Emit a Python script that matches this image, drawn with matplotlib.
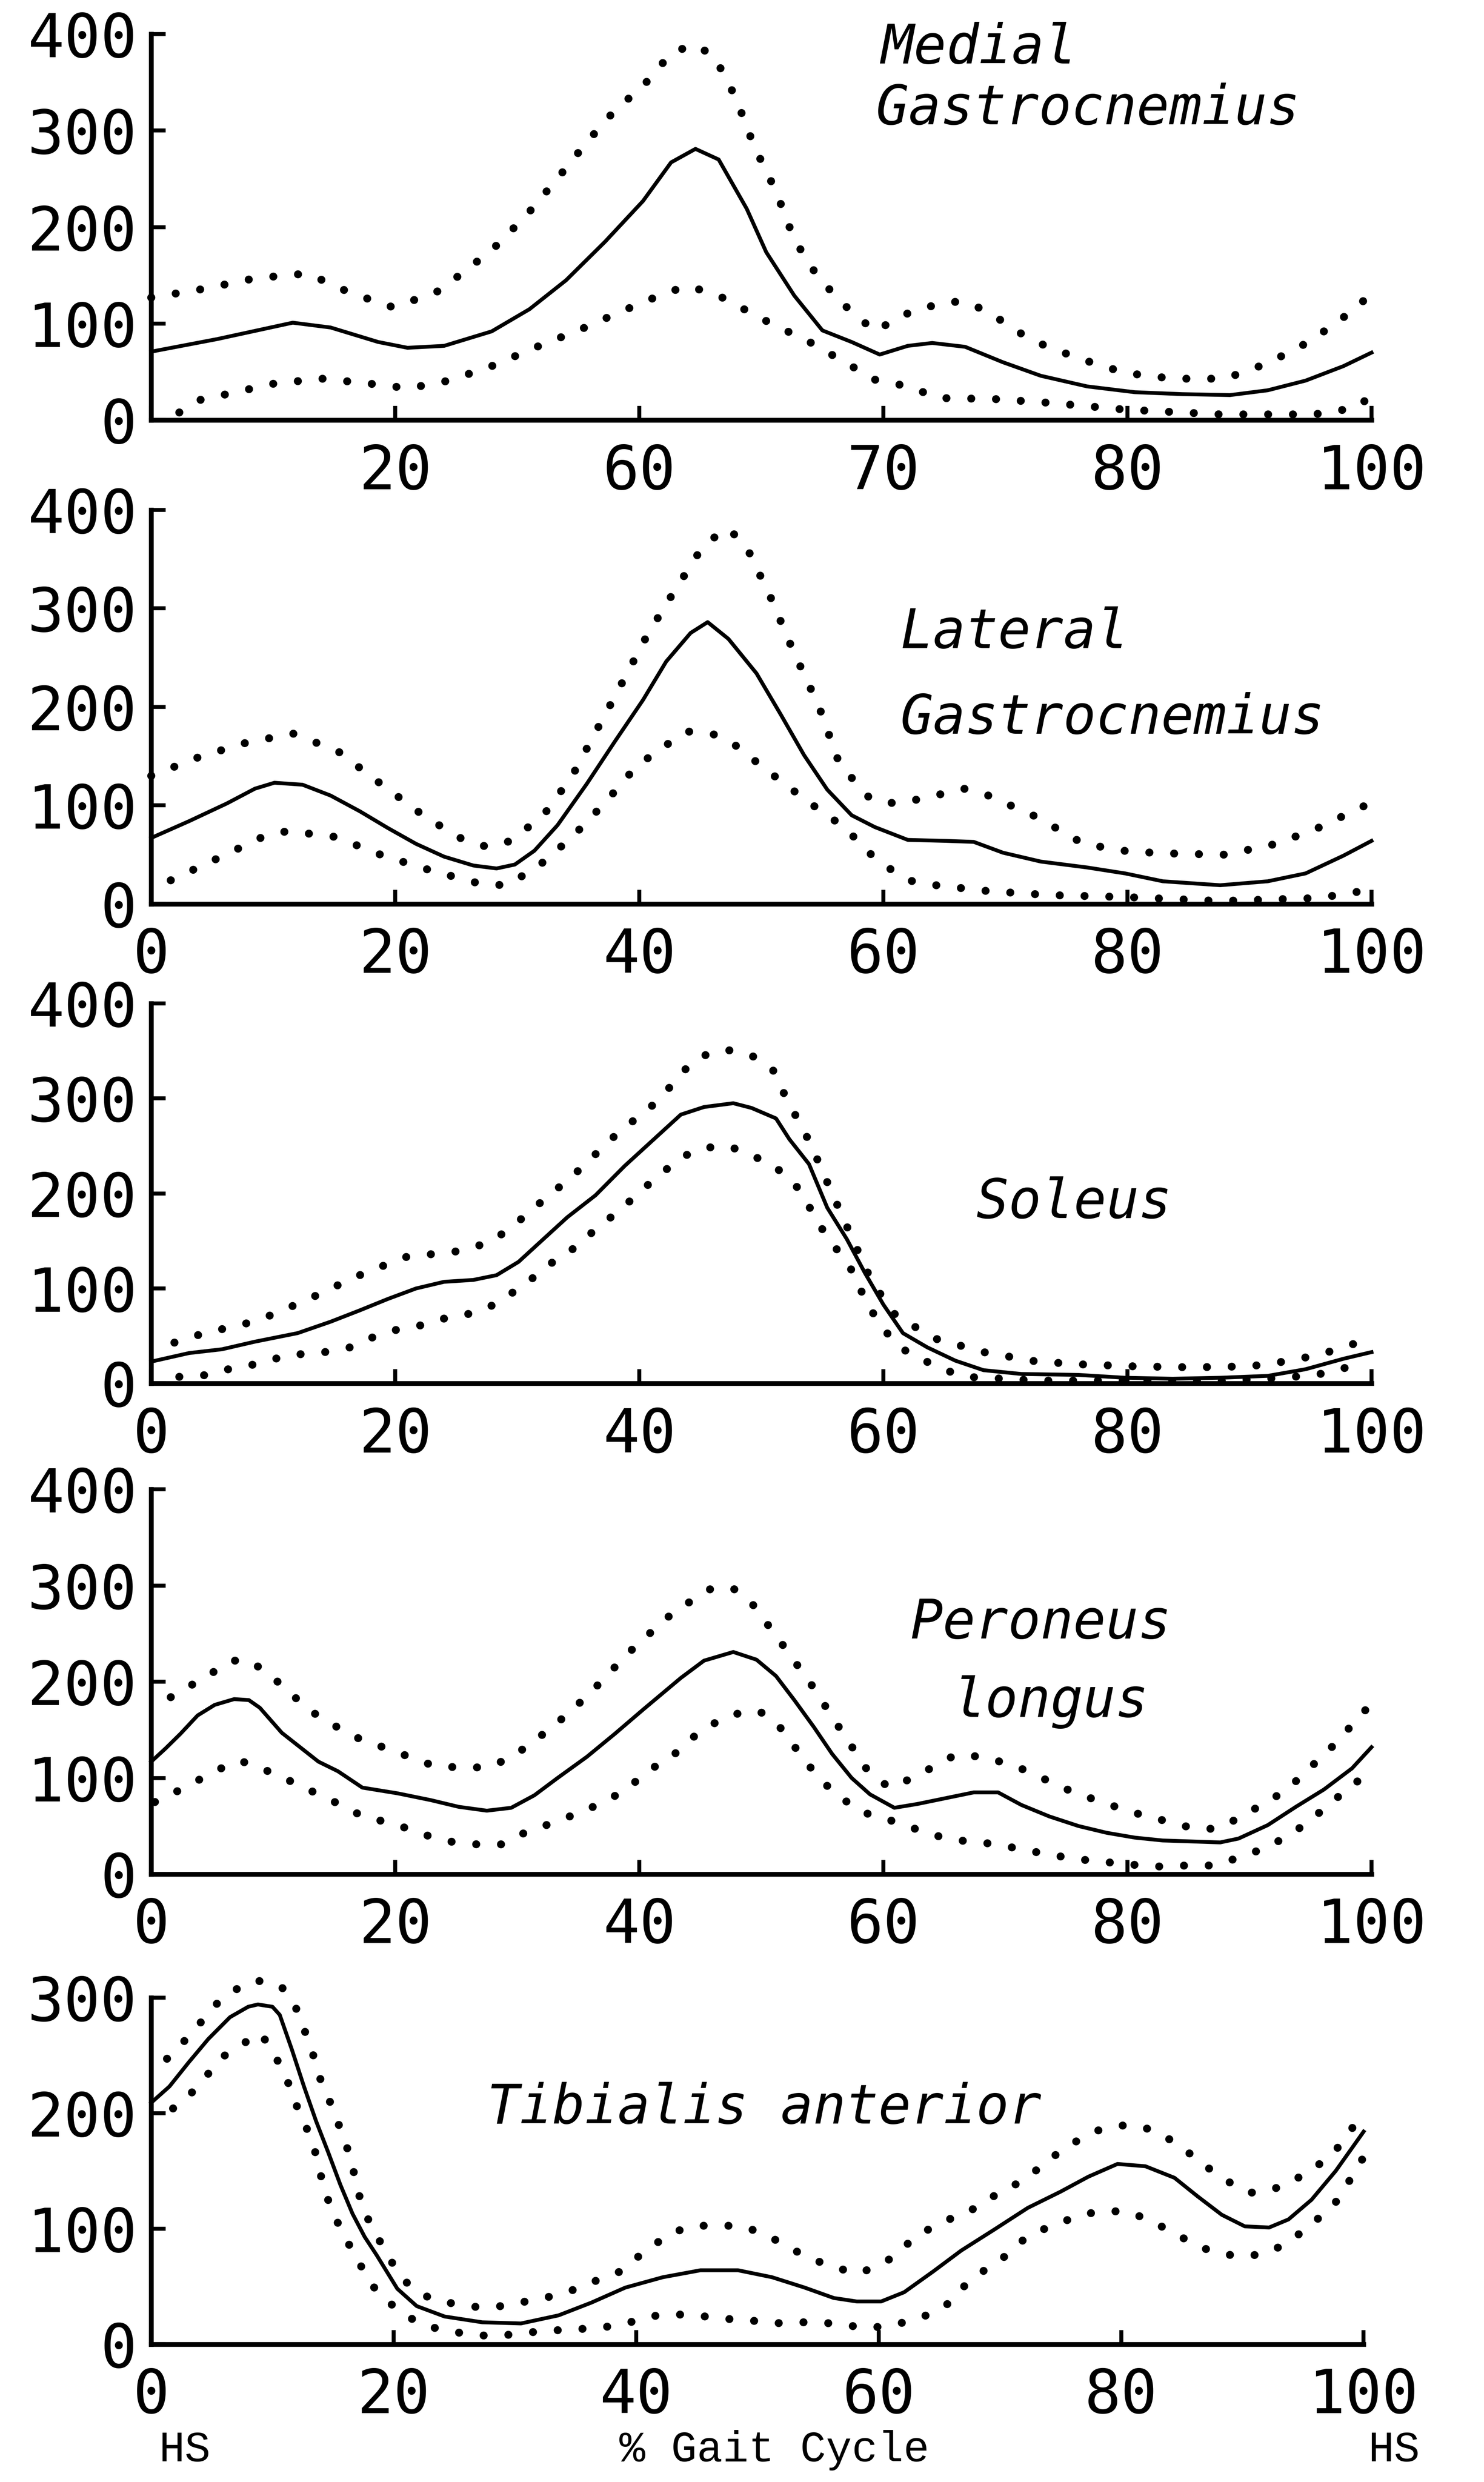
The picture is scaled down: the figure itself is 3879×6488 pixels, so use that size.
import matplotlib.pyplot as plt

plt.rcParams['font.family'] = ['DejaVu Sans Mono']

# --- Medial Gastrocnemius ---
mg_mean_x = [0, 5.4, 11.6, 14.7, 18.6, 21, 24, 27.9, 31, 34, 37.2, 40.3, 42.6, 44.6, 46.5, 48.8, 50.4,
             52.7, 55, 57.4, 59.7, 62, 64, 66.7, 69.8, 72.9, 76.7, 80.6, 84.5, 88.4, 91.5, 94.6, 97.7, 100]
mg_mean_y = [71, 84, 101, 96, 81, 75, 77, 92, 115, 145, 185, 227, 267, 281, 270, 219, 174,
             129, 93, 81, 68, 77, 80, 76, 60, 46, 35, 29, 27, 26, 31, 41, 56, 70]
mg_upper_x = [0, 4.3, 8.5, 12.8, 16.3, 19.8, 23.3, 26, 28.3, 30.8, 33.2, 35.7, 38, 40.3, 42.6, 44.4, 46.1,
              47.9, 49.4, 51.2, 52.7, 54.7, 57, 59.3, 61.6, 64.9, 66.7, 68.6, 72.1, 76, 79.8, 83.7, 88,
              91.5, 95, 98.3, 100]
mg_upper_y = [127, 136, 147, 152, 132, 117, 132, 157, 181, 213, 249, 288, 321, 346, 380, 389, 378,
              334, 284, 237, 187, 147, 117, 92, 109, 122, 123, 112, 83, 64, 49, 43, 43,
              59, 82, 112, 131]
mg_lower_x = [2.3, 4, 6.2, 10.1, 14, 17.8, 21.1, 24.4, 27.9, 31.8, 35, 38.4, 42.2, 44, 46.5, 50.2, 54.1,
              57.8, 59.3, 62.4, 64.3, 69, 73.6, 79.8, 87.6, 95.3, 98.8, 100]
mg_lower_y = [8, 21, 27, 38, 43, 38, 33, 41, 56, 77, 93, 112, 132, 139, 129, 104, 80,
              53, 42, 34, 23, 22, 18, 11, 6, 6, 13, 26]

# --- Lateral Gastrocnemius ---
lg_mean_x = [0, 3.1, 6.2, 8.5, 10.1, 12.4, 14.7, 17.1, 19.4, 21.7, 24, 26.4, 28.3, 29.8, 31.4, 33.3,
             35.7, 38, 40.3, 42.2, 44.2, 45.6, 47.3, 49.6, 51.6, 53.5, 55.4, 57.4, 59.3, 62, 65.1,
             67.4, 69.8, 72.9, 76.7, 79.8, 82.9, 87.6, 91.5, 94.6, 97.7, 100]
lg_mean_y = [67, 84, 102, 117, 123, 121, 110, 94, 77, 61, 48, 39, 36, 40, 54, 80,
             122, 165, 207, 246, 275, 286, 269, 234, 192, 151, 116, 90, 78, 65, 64,
             63, 52, 43, 37, 31, 23, 19, 23, 31, 49, 64]
lg_upper_x = [0, 3.9, 7.6, 11.6, 15.3, 18.8, 22.5, 25.6, 27.5, 29.5, 32.2, 34.5, 36.4, 38.1, 40.7, 43,
              44.8, 45.9, 47.3, 48.8, 50.8, 52.6, 54.7, 56.4, 58.9, 60.9, 62.8, 66.7, 68.6, 72.6,
              76.4, 80.2, 84.1, 88, 92.2, 95.6, 99.5]
lg_upper_y = [130, 149, 163, 173, 155, 122, 88, 65, 58, 64, 91, 130, 174, 213, 274, 320,
              355, 370, 381, 362, 310, 257, 201, 142, 107, 102, 106, 117, 110, 88,
              61, 53, 51, 50, 61, 77, 100]
lg_lower_x = [1.6, 5.4, 9.3, 11.2, 15.1, 19, 22.9, 27.1, 29.1, 31.6, 34.5, 37.2, 39.5, 41.5, 44, 46.1,
              48, 50.2, 53.9, 57, 58.5, 60.5, 62, 64.3, 68.6, 73.6, 79.8, 87.6, 95.7, 99.2]
lg_lower_y = [24, 46, 69, 74, 68, 49, 34, 20, 19, 37, 68, 103, 136, 156, 175, 172,
              160, 138, 103, 76, 55, 36, 24, 19, 13, 9, 7, 3, 6, 13]

# --- Soleus ---
so_mean_x = [0, 3.1, 5.8, 8.5, 12, 14.7, 17.1, 19.4, 21.7, 24, 26.4, 28.3, 30.1, 31.8, 34.1, 36.4,
             38.8, 41.1, 43.4, 45.3, 47.7, 49.2, 51.2, 52.3, 53.9, 55.4, 57, 58.5, 60, 61.6, 63.6,
             65.9, 68.2, 71.3, 76, 79.8, 83.7, 87.6, 91.5, 94.6, 97.7, 100]
so_mean_y = [23, 32, 36, 44, 53, 65, 77, 89, 100, 107, 109, 114, 128, 148, 175, 198,
             229, 256, 283, 291, 295, 290, 279, 257, 231, 185, 152, 116, 83, 53, 38,
             24, 14, 10, 9, 6, 5, 6, 8, 15, 26, 33]
so_upper_x = [1.9, 4.1, 8.7, 12.6, 16.7, 20.8, 25.7, 27.9, 29.5, 31.2, 34.5, 38.1, 41.2, 42.8, 44.2,
              45.9, 47.7, 49.6, 51, 51.9, 54, 55.7, 57.4, 59.1, 61.1, 62.4, 64.3, 68.2, 72.6, 76.4,
              80.6, 85.3, 89.9, 91.9, 95.7, 99.6]
so_upper_y = [43, 52, 66, 87, 112, 133, 140, 150, 164, 183, 218, 262, 294, 316, 337,
              349, 351, 343, 329, 304, 253, 203, 154, 106, 70, 61, 47, 33, 23, 20,
              18, 17, 18, 21, 30, 46]
so_lower_x = [2.3, 4.7, 6.6, 8.9, 11.2, 13.8, 16.3, 18.4, 20.5, 22.5, 24.4, 26.4, 28.3, 30.1, 31.8, 33.3,
              35, 36.6, 38.1, 40.7, 43.4, 45.3, 47.3, 49.2, 50.8, 52.3, 53.5, 54.4, 55.8, 57.8, 58.5,
              60.3, 61.6, 63.2, 65.1, 66.7, 72.9, 79.8, 86.8, 91.5, 94.6, 96.9, 99.2]
so_lower_y = [7, 9, 16, 21, 30, 32, 38, 50, 58, 62, 70, 74, 84, 100, 116, 132,
              145, 165, 179, 209, 238, 248, 250, 240, 231, 216, 198, 173, 148, 112, 86,
              53, 36, 25, 14, 7, 3, 3, 2, 5, 8, 12, 23]

# --- Peroneus longus ---
pl_mean_x = [0, 1.2, 2.4, 3.8, 5.2, 6.8, 8, 8.9, 10.7, 12.3, 13.7, 15.3, 17.3, 20.2, 22.9, 25.2, 27.5,
             29.5, 31.4, 33.3, 35.7, 38, 40.3, 43.4, 45.3, 47.7, 49.6, 51.2, 52.7, 54.3, 55.8, 57.4,
             58.9, 60.9, 62.8, 65.1, 67.4, 69.4, 71.3, 73.6, 76, 78.3, 80.6, 82.9, 85.3, 87.6, 89.1,
             91.5, 93.8, 96.1, 98.4, 100]
pl_mean_y = [117, 131, 146, 165, 176, 182, 181, 173, 147, 131, 117, 107, 90, 84, 77, 70, 66,
             69, 82, 100, 122, 146, 171, 204, 222, 231, 223, 206, 181, 153, 125, 100,
             83, 69, 73, 79, 85, 85, 72, 60, 50, 43, 38, 35, 34, 33, 37,
             51, 70, 88, 110, 132]
pl_upper_x = [1.6, 4.7, 6.6, 8.1, 10.1, 13, 16.4, 19, 23.3, 25.6, 27.5, 29.5, 32.9, 35.8, 39.1, 42.2,
              44, 45.9, 47.7, 49.2, 51.6, 54.1, 56.4, 58.8, 60.5, 62.4, 65.9, 68.2, 70.9, 75.6, 80.2,
              85.3, 87.2, 89.1, 93, 96.9, 99.6]
pl_upper_y = [184, 207, 222, 222, 203, 170, 144, 132, 112, 111, 111, 121, 153, 186, 230, 266,
              282, 297, 297, 282, 241, 197, 152, 106, 90, 100, 124, 122, 112, 85, 65,
              48, 47, 58, 87, 134, 172]
pl_lower_x = [0.3, 2.1, 3.6, 5.1, 6.2, 7.3, 8.3, 9.8, 11.7, 13.7, 15.7, 17.5, 19.8, 22.1, 24.4, 26.7,
              28.7, 30.6, 32.6, 34.5, 36.4, 38.4, 40.3, 41.9, 43, 45, 46.9, 48.8, 50, 51.2, 52.3,
              53.5, 55, 56.6, 58.1, 60.1, 62.4, 64.3, 66.3, 68.6, 70.9, 72.9, 75.6, 77.9, 80.2,
              82.6, 84.9, 87.2, 89.5, 91.5, 93, 94.6, 96.1, 97.7, 99.2]
pl_lower_y = [75, 86, 96, 106, 113, 118, 113, 106, 95, 83, 71, 59, 53, 42, 34, 31,
              31, 43, 52, 61, 71, 84, 102, 118, 126, 149, 162, 170, 168, 158, 140,
              119, 96, 79, 65, 58, 48, 40, 35, 32, 27, 22, 16, 13, 10,
              8, 9, 9, 19, 28, 39, 52, 68, 85, 100]

# --- Tibialis anterior ---
ta_mean_x = [0, 1.5, 3.1, 4.7, 6.5, 8, 8.8, 10, 10.6, 11.6, 12.6, 13.6, 14.6, 15.6, 16.6, 17.6, 18.6,
             20.3, 21.9, 24.2, 27.3, 30.5, 33.6, 36.3, 39.1, 42.2, 45.3, 48.4, 51.2, 53.9, 56.3,
             58.2, 60.2, 62.1, 64.5, 66.8, 69.5, 72.3, 75, 77.3, 79.7, 82, 84.4, 86.3, 88.3, 90.2,
             92.2, 93.8, 95.7, 97.7, 100]
ta_mean_y = [209, 223, 244, 264, 283, 292, 294, 292, 285, 255, 223, 193, 166, 138, 113, 93, 77,
             48, 33, 24, 19, 18, 25, 36, 49, 58, 64, 64, 58, 49, 40,
             37, 37, 45, 63, 81, 99, 118, 132, 145, 156, 154, 144, 128, 112, 102,
             101, 108, 125, 150, 184]
ta_upper_x = [1.3, 2.7, 3.9, 5.1, 6.8, 8.6, 10.7, 11.9, 12.7, 13.5, 14.1, 15, 15.7, 16.5, 17, 17.9,
              18.7, 19.9, 21, 22.3, 23.6, 25, 27, 28.9, 30.9, 32.8, 34.8, 36.7, 38.7, 39.8, 41.4,
              42.6, 44.5, 46.5, 48.8, 50.4, 52.3, 54.1, 56.3, 58.2, 59.8, 61.3, 62.9, 65.2, 67.2,
              69.1, 71.1, 72.7, 74.2, 76.2, 78.1, 80.5, 82.4, 84.4, 85.9, 87.5, 89.1, 90.6, 92.2,
              93.8, 95.7, 97.3, 98.8, 100]
ta_upper_y = [247, 262, 276, 292, 306, 315, 310, 292, 270, 246, 224, 204, 183, 160, 133, 108,
              92, 70, 54, 43, 38, 35, 32, 33, 37, 41, 47, 55, 63, 73, 85,
              95, 102, 103, 102, 96, 86, 75, 67, 61, 67, 76, 92, 106, 113,
              126, 137, 148, 161, 175, 185, 190, 186, 175, 163, 150, 139, 131, 133,
              139, 151, 163, 182, 205]
ta_lower_x = [1.8, 3.2, 4.7, 5.8, 7.4, 9, 10.1, 10.9, 11.6, 12.1, 12.9, 13.6, 14.1, 14.8, 15.8, 16.7,
              17.6, 18.7, 20.7, 22.3, 24.2, 26.6, 28.5, 30.9, 33.2, 35.2, 37.5, 39.5, 41, 43, 44.9,
              47.3, 49.2, 51.2, 53.1, 55.1, 57, 59, 60.9, 62.5, 64.5, 66, 67.2, 69.1, 70.7, 72.3,
              74.2, 76.2, 78.1, 80.5, 82.4, 84.4, 86.3, 87.9, 89.8, 91.8, 93.4, 94.9, 96.5, 97.7,
              98.8, 100]
ta_lower_y = [204, 216, 234, 248, 259, 269, 253, 234, 220, 203, 185, 164, 141, 118, 96, 79,
              62, 44, 27, 17, 12, 8, 7, 10, 12, 13, 15, 19, 24, 26, 25,
              22, 21, 18, 19, 19, 17, 14, 16, 20, 27, 37, 52, 67, 78, 94,
              102, 110, 115, 115, 107, 96, 85, 79, 76, 78, 86, 97, 111, 123,
              141, 162]

xticks_std = [0, 20, 40, 60, 80, 100]
xlabels_std = ['0', '20', '40', '60', '80', '100']
xlabels_top = ['', '20', '60', '70', '80', '100']   # as printed on the original top panel

fig = plt.figure(figsize=(3879 / 300, 6488 / 300), dpi=300)
fig.patch.set_facecolor('white')


def panel(rect, ymax, xlabels, series):
    ax = fig.add_axes(rect)
    ax.set_xlim(0, 100)
    ax.set_ylim(0, ymax)
    for s in ['top', 'right']:
        ax.spines[s].set_visible(False)
    for s in ['left', 'bottom']:
        ax.spines[s].set_linewidth(3)
    ax.set_yticks(range(0, ymax + 1, 100))
    ax.set_xticks(xticks_std)
    ax.set_xticklabels(xlabels)
    ax.tick_params(direction='in', length=9, width=2.5, labelsize=38)
    ax.tick_params(axis='x', pad=14)
    ax.tick_params(axis='y', pad=9)
    (mx, my), (ux, uy), (lx, ly) = series
    ax.plot(mx, my, color='black', lw=2.4, solid_joinstyle='round', clip_on=False)
    for xs, ys in [(ux, uy), (lx, ly)]:
        ax.plot(xs, ys, color='black', lw=5, ls=(0, (0.01, 3.1)),
                dash_capstyle='round', clip_on=False)
    return ax


ax1 = panel([0.1019, 0.8307, 0.8223, 0.1556], 400, xlabels_top,
            [(mg_mean_x, mg_mean_y), (mg_upper_x, mg_upper_y), (mg_lower_x, mg_lower_y)])
ax2 = panel([0.1019, 0.6358, 0.8223, 0.1588], 400, xlabels_std,
            [(lg_mean_x, lg_mean_y), (lg_upper_x, lg_upper_y), (lg_lower_x, lg_lower_y)])
ax3 = panel([0.1019, 0.4426, 0.8223, 0.1531], 400, xlabels_std,
            [(so_mean_x, so_mean_y), (so_upper_x, so_upper_y), (so_lower_x, so_lower_y)])
ax4 = panel([0.1019, 0.2449, 0.8223, 0.1550], 400, xlabels_std,
            [(pl_mean_x, pl_mean_y), (pl_upper_x, pl_upper_y), (pl_lower_x, pl_lower_y)])
ax5 = panel([0.1019, 0.0555, 0.8170, 0.1397], 300, xlabels_std,
            [(ta_mean_x, ta_mean_y), (ta_upper_x, ta_upper_y), (ta_lower_x, ta_lower_y)])

tkw = dict(family='DejaVu Sans Mono', style='oblique', fontsize=34, va='center', ha='left')
ax1.text(59.8, 385, 'Medial', **tkw)
ax1.text(59.4, 322, 'Gastrocnemius', **tkw)
ax2.text(61.4, 275, 'Lateral', **tkw)
ax2.text(61.4, 188, 'Gastrocnemius', **tkw)
ax3.text(67.6, 190, 'Soleus', **tkw)
ax4.text(62.2, 261, 'Peroneus', **tkw)
ax4.text(65.7, 179, 'longus', **tkw)
ax5.text(27.7, 204, 'Tibialis anterior', **tkw)

bkw = dict(family='Liberation Mono', fontsize=27, va='center', ha='center')
fig.text(0.1244, 0.0128, 'HS', **bkw)
fig.text(0.5219, 0.0128, '% Gait Cycle', **bkw)
fig.text(0.9392, 0.0128, 'HS', **bkw)

fig.savefig('out.png', dpi=300, facecolor='white')
